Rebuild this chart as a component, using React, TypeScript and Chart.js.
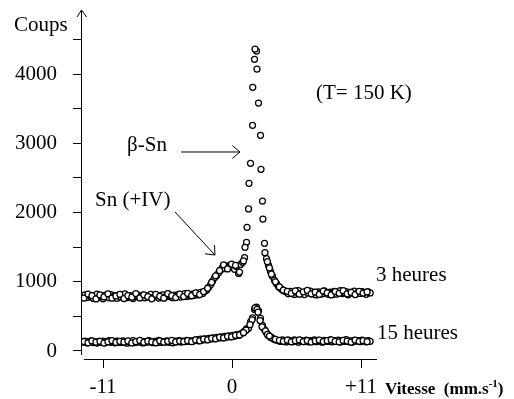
import React, { useEffect, useRef } from "react";
import { Chart, registerables } from "chart.js";

Chart.register(...registerables);

const FONT = "'Liberation Serif', 'Times New Roman', serif";

// Velocity grid (mm/s), first pass of channels, shared by both spectra
const velocities = [
  -12.70, -12.53, -12.36, -12.19, -12.02, -11.85, -11.68, -11.51, -11.34, -11.17,
  -11.00, -10.83, -10.66, -10.49, -10.32, -10.15, -9.98, -9.81, -9.64, -9.47,
  -9.30, -9.13, -8.96, -8.79, -8.62, -8.45, -8.28, -8.11, -7.94, -7.77,
  -7.60, -7.43, -7.26, -7.09, -6.92, -6.75, -6.58, -6.41, -6.24, -6.07,
  -5.90, -5.73, -5.56, -5.39, -5.22, -5.05, -4.88, -4.71, -4.54, -4.37,
  -4.20, -4.03, -3.86, -3.69, -3.52, -3.35, -3.18, -3.01, -2.84, -2.67,
  -2.50, -2.33, -2.16, -1.99, -1.82, -1.65, -1.48, -1.31, -1.14, -0.97,
  -0.80, -0.63, -0.46, -0.29, -0.12, 0.05, 0.22, 0.39, 0.56, 0.73,
  0.90, 1.07, 1.24, 1.41, 1.58, 1.75, 1.92, 2.09, 2.26, 2.43,
  2.60, 2.77, 2.94, 3.11, 3.28, 3.45, 3.62, 3.79, 3.96, 4.13,
  4.30, 4.47, 4.64, 4.81, 4.98, 5.15, 5.32, 5.49, 5.66, 5.83,
  6.00, 6.17, 6.34, 6.51, 6.68, 6.85, 7.02, 7.19, 7.36, 7.53,
  7.70, 7.87, 8.04, 8.21, 8.38, 8.55, 8.72, 8.89, 9.06, 9.23,
  9.40, 9.57, 9.74, 9.91, 10.08, 10.25, 10.42, 10.59, 10.76, 10.93,
  11.10, 11.27, 11.44, 11.61, 11.78,
];

// "3 heures" spectrum counts (first pass)
const counts3h = [
  790, 812, 771, 805, 783, 760, 798, 820, 776, 791,
  754, 803, 787, 769, 815, 782, 797, 761, 808, 779,
  793, 826, 770, 786, 801, 757, 792, 814, 775, 788,
  806, 768, 795, 781, 818, 772, 789, 803, 764, 797,
  811, 778, 792, 823, 785, 770, 806, 794, 817, 779,
  801, 828, 788, 809, 795, 822, 805, 836, 812, 848,
  830, 862, 880, 920, 960, 1010, 1060, 1090, 1130, 1170,
  1210, 1190, 1230, 1205, 1240, 1210, 1180, 1220, 1120, 1250,
  1280, 1347, 1570, 2051, 2710, 3259, 4212, 4332, 3581, 3115,
  2166, 1555, 1333, 1240, 1150, 1080, 1020, 975, 930, 905,
  880, 865, 852, 828, 861, 835, 817, 849, 872, 830,
  843, 815, 858, 838, 866, 824, 847, 810, 855, 839,
  826, 869, 842, 818, 851, 834, 862, 821, 846, 873,
  829, 840, 857, 812, 848, 836, 865, 823, 850, 831,
  859, 844, 819, 854, 838,
];

// "15 heures" spectrum counts (first pass)
const counts15h = [
  128, 141, 119, 135, 147, 122, 131, 115, 139, 126,
  144, 120, 133, 149, 125, 137, 118, 142, 130, 124,
  146, 133, 112, 138, 127, 150, 121, 135, 129, 143,
  117, 136, 126, 148, 132, 120, 140, 128, 153, 123,
  137, 131, 145, 126, 139, 118, 142, 134, 151, 129,
  144, 136, 155, 138, 147, 141, 152, 165, 149, 170,
  158, 176, 163, 181, 172, 190, 178, 195, 186, 203,
  192, 210, 199, 218, 206, 225, 214, 236, 228, 248,
  262, 288, 318, 330, 420, 480, 600, 635, 580, 470,
  370, 310, 262, 225, 200, 185, 165, 158, 150, 138,
  162, 144, 131, 156, 147, 135, 160, 141, 128, 153,
  146, 137, 158, 132, 149, 143, 161, 134, 152, 140,
  127, 155, 145, 138, 159, 133, 148, 142, 157, 130,
  151, 139, 163, 136, 146, 129, 154, 141, 150, 135,
  158, 144, 132, 149, 140,
];

// Second pass of channels (outside the main lines), shared velocities
const pass2Vel = [
  -12.62, -12.28, -11.94, -11.60, -11.26, -10.92, -10.58, -10.24, -9.90, -9.56,
  -9.22, -8.88, -8.54, -8.20, -7.86, -7.52, -7.18, -6.84, -6.50, -6.16,
  -5.82, -5.48, -5.14, -4.80, -4.46, -4.12, -3.78, -3.44, -3.10, -2.76,
  -2.42, -2.08, -1.74, -1.40, -1.06, -0.72, -0.38, -0.04, 0.30, 0.64,
  3.36, 3.70, 4.04, 4.38, 4.72, 5.06, 5.40, 5.74, 6.08, 6.42,
  6.76, 7.10, 7.44, 7.78, 8.12, 8.46, 8.80, 9.14, 9.48, 9.82,
  10.16, 10.50, 10.84, 11.18, 11.52,
];
const pass2Counts3h = [
  765, 822, 798, 752, 809, 781, 826, 763, 795, 818,
  758, 801, 777, 829, 766, 812, 784, 753, 816, 790,
  762, 827, 799, 771, 820, 786, 832, 798, 841, 815,
  858, 905, 990, 1085, 1160, 1245, 1185, 1255, 1235, 1140,
  1110, 1000, 925, 878, 860, 832, 868, 821, 855, 874,
  826, 849, 817, 866, 838, 810, 858, 833, 871, 825,
  846, 815, 862, 837, 853,
];
const pass2Counts15h = [
  136, 118, 145, 127, 140, 114, 132, 150, 123, 138,
  129, 146, 117, 134, 152, 125, 141, 131, 119, 147,
  128, 139, 154, 130, 143, 137, 149, 134, 160, 147,
  171, 162, 184, 176, 198, 189, 212, 204, 226, 232,
  195, 168, 152, 139, 157, 133, 148, 160, 137, 151,
  129, 145, 158, 136, 149, 162, 140, 131, 153, 144,
  127, 156, 139, 148, 134,
];

// Second pass around the absorption lines
const peakVel3h = [1.11, 1.28, 1.45, 1.77, 1.96, 2.13, 2.47, 2.64, 0.98, 2.81, 3.02, 3.19];
const peakCounts3h = [1497, 1786, 2421, 3808, 4361, 4072, 2624, 1906, 1300, 1420, 1290, 1200];
const peakVel15h = [1.96, 2.13, 2.22, 1.71, 2.39, 1.53, 2.56, 1.20, 2.85, 0.98, 3.02, 3.19];
const peakCounts15h = [621, 600, 560, 450, 440, 380, 350, 300, 290, 265, 240, 215];

// Axis ticks
const xTickValues = [-11, 0, 11];
const xTickLabels = ["-11", "0", "+11"];
const yTickValues = [0, 500, 1000, 1500, 2000, 2500, 3000, 3500, 4000, 4500];
const yTickLabels = ["0", "", "1000", "", "2000", "", "3000", "", "4000", ""];

// Annotations (placed in data coordinates)
const noteTexts = ["(T= 150 K)", "β-Sn", "Sn (+IV)", "3 heures", "15 heures"];
const noteVel = [7.16, -8.95, -11.68, 12.28, 12.36];
const noteCounts = [3639, 2888, 2094, 1011, 173];

// Arrows: [startVel, startCounts, endVel, endCounts]
const arrowBetaSn = [-4.35, 2874, 0.68, 2874];
const arrowSnIV = [-4.86, 2007, -1.45, 1386];

function drawArrow(ctx: CanvasRenderingContext2D, x1: number, y1: number, x2: number, y2: number) {
  ctx.beginPath();
  ctx.moveTo(x1, y1);
  ctx.lineTo(x2, y2);
  ctx.stroke();
  const ang = Math.atan2(y2 - y1, x2 - x1);
  const len = 10;
  const spread = 0.7;
  ctx.beginPath();
  ctx.moveTo(x2 - len * Math.cos(ang - spread), y2 - len * Math.sin(ang - spread));
  ctx.lineTo(x2, y2);
  ctx.lineTo(x2 - len * Math.cos(ang + spread), y2 - len * Math.sin(ang + spread));
  ctx.stroke();
}

const decorPlugin = {
  id: "decor",
  afterDraw(chart: any) {
    const { ctx, chartArea } = chart;
    const xs = chart.scales.x;
    const ys = chart.scales.y;
    ctx.save();
    ctx.strokeStyle = "#000";
    ctx.fillStyle = "#000";
    ctx.lineWidth = 1;

    // y axis with arrow
    const ax = Math.round(chartArea.left) + 0.5;
    ctx.beginPath();
    ctx.moveTo(ax, chartArea.top - 8);
    ctx.lineTo(ax, chartArea.bottom - 5);
    ctx.stroke();
    ctx.beginPath();
    ctx.moveTo(ax - 4.5, chartArea.top - 1);
    ctx.lineTo(ax, chartArea.top - 8);
    ctx.lineTo(ax + 5, chartArea.top - 1);
    ctx.stroke();

    // x axis
    const ay = Math.round(chartArea.bottom) - 0.5;
    ctx.beginPath();
    ctx.moveTo(chartArea.left + 3, ay);
    ctx.lineTo(chartArea.right, ay);
    ctx.stroke();

    // axis titles
    ctx.font = `21px ${FONT}`;
    ctx.textAlign = "left";
    ctx.textBaseline = "alphabetic";
    ctx.fillText("Coups", chartArea.left - 67, chartArea.top + 13);

    const tx = chartArea.right + 8;
    const ty = chartArea.bottom + 34;
    ctx.font = `bold 17px ${FONT}`;
    const main = "Vitesse  (mm.s";
    ctx.fillText(main, tx, ty);
    const w1 = ctx.measureText(main).width;
    ctx.font = `bold 11px ${FONT}`;
    ctx.fillText("-1", tx + w1, ty - 7);
    const w2 = ctx.measureText("-1").width;
    ctx.font = `bold 17px ${FONT}`;
    ctx.fillText(")", tx + w1 + w2, ty);

    // annotations
    ctx.font = `21px ${FONT}`;
    noteTexts.forEach((t, i) => {
      ctx.fillText(t, xs.getPixelForValue(noteVel[i]), ys.getPixelForValue(noteCounts[i]));
    });

    [arrowBetaSn, arrowSnIV].forEach((a) => {
      drawArrow(
        ctx,
        xs.getPixelForValue(a[0]),
        ys.getPixelForValue(a[1]),
        xs.getPixelForValue(a[2]),
        ys.getPixelForValue(a[3])
      );
    });
    ctx.restore();
  },
};

function zeroPadding(s: any) {
  s.paddingTop = 0;
  s.paddingBottom = 0;
  s.paddingLeft = 0;
  s.paddingRight = 0;
}

export default function App() {
  const ref = useRef<HTMLCanvasElement | null>(null);

  useEffect(() => {
    if (!ref.current) return;
    const toPts = (vs: number[], cs: number[]) => vs.map((v, i) => ({ x: v, y: cs[i] }));
    const pts3h = toPts(velocities, counts3h)
      .concat(toPts(pass2Vel, pass2Counts3h))
      .concat(toPts(peakVel3h, peakCounts3h));
    const pts15h = toPts(velocities, counts15h)
      .concat(toPts(pass2Vel, pass2Counts15h))
      .concat(toPts(peakVel15h, peakCounts15h));

    const pointStyle = {
      showLine: false,
      pointStyle: "circle",
      pointRadius: 3,
      pointBorderWidth: 1.25,
      pointBorderColor: "#000",
      pointBackgroundColor: "#fff",
    };

    const axisGrid = {
      display: true,
      drawOnChartArea: false,
      drawTicks: true,
      tickLength: 8,
      color: "#000",
      lineWidth: 1,
    };

    const chart = new Chart(ref.current, {
      type: "scatter",
      data: {
        datasets: [
          { label: "3 heures", data: pts3h, ...pointStyle } as any,
          { label: "15 heures", data: pts15h, ...pointStyle } as any,
        ],
      },
      options: {
        responsive: false,
        animation: false,
        events: [],
        layout: { padding: { top: 18, right: 137, left: 0, bottom: 0 } },
        plugins: { legend: { display: false }, tooltip: { enabled: false } },
        scales: {
          x: {
            type: "linear",
            min: -12.876,
            max: 12.364,
            afterBuildTicks: (s: any) => {
              s.ticks = xTickValues.map((v) => ({ value: v }));
            },
            afterFit: (s: any) => {
              s.height = 39;
              zeroPadding(s);
            },
            ticks: {
              autoSkip: false,
              maxRotation: 0,
              padding: 7,
              color: "#000",
              font: { family: FONT, size: 21 },
              callback: (_v: any, i: number) => xTickLabels[i],
            },
            grid: axisGrid,
            border: { display: false },
          },
          y: {
            type: "linear",
            min: -130,
            max: 4809,
            afterBuildTicks: (s: any) => {
              s.ticks = yTickValues.map((v) => ({ value: v }));
            },
            afterFit: (s: any) => {
              s.width = 81;
              zeroPadding(s);
            },
            ticks: {
              autoSkip: false,
              padding: 16,
              color: "#000",
              font: { family: FONT, size: 21 },
              callback: (_v: any, i: number) => yTickLabels[i],
            },
            grid: axisGrid,
            border: { display: false },
          },
        },
      } as any,
      plugins: [decorPlugin],
    });
    return () => chart.destroy();
  }, []);

  return (
    <div style={{ position: "fixed", left: 0, top: 0, width: 514, height: 399, background: "#fff" }}>
      <canvas ref={ref} width={514} height={399} style={{ display: "block", width: 514, height: 399 }} />
    </div>
  );
}
